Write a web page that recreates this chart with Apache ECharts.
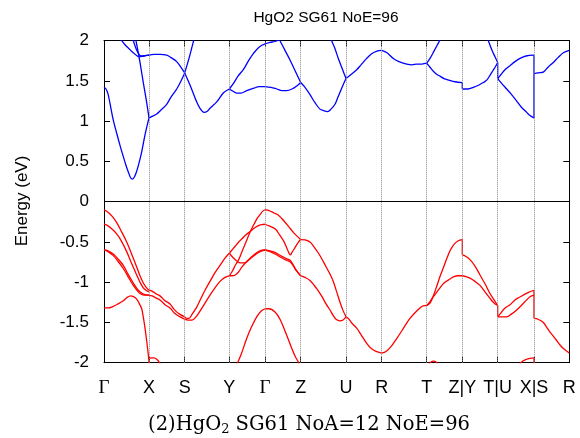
<!DOCTYPE html>
<html><head><meta charset="utf-8">
<script src="https://cdn.jsdelivr.net/npm/echarts@6/dist/echarts.min.js"></script>
<style>html,body{margin:0;padding:0;background:#fff}#c{width:580px;height:438px}</style>
</head><body><div id="c"></div>
<script>
// High-symmetry k-path positions and labels
const kTicks = [0, 45, 80.7, 125.3, 161, 196.7, 242, 277.7, 322.7, 358.3, 393.7, 430, 465.3];
const kLabels = ['Γ','X','S','Y','Γ','Z','U','R','T','Z|Y','T|U','X|S','R'];
const titleText = 'HgO2 SG61 NoE=96';
const yName = 'Energy (eV)';

// Conduction bands (blue) : [k, E]
const cb1 = [[0,1.42],[2,1.40],[4,1.34],[6,1.22],[9,1.03],[12.7,0.85],[16,0.70],[19.3,0.56],[22,0.45],[24.3,0.37],[26.5,0.30],[28.3,0.28],[30.5,0.31],[32.7,0.38],[35,0.48],[37.7,0.62],[41,0.83],[43,0.94],[45,1.04],
 [48,1.06],[52.7,1.09],[57,1.14],[62.7,1.21],[67,1.30],[72.7,1.40],[77,1.50],[80.7,1.60],[85,1.78],[89,1.97],[91,2.06]];
const cb2 = [[31.5,2.05],[32,2.0],[34,1.87],[36,1.73],[39.3,1.48],[42.7,1.23],[45,1.04]];
const cb3 = [[16,2.04],[17.7,2.0],[21,1.95],[24.3,1.91],[29.3,1.85],[35.3,1.80],[40,1.81],[45,1.82],
 [50,1.83],[56,1.83],[62.7,1.82],[67,1.79],[72.7,1.74],[77,1.67],[80.7,1.60],
 [86,1.45],[92.7,1.24],[96,1.16],[100,1.11],[103,1.12],[106,1.16],[112.7,1.24],[119.3,1.35],[125.3,1.40],
 [128,1.38],[132.7,1.35],[137,1.35],[142.7,1.38],[150,1.41],[155,1.43],[161,1.43],
 [167,1.42],[172.7,1.40],[178,1.38],[182.7,1.38],[188,1.40],[193,1.44],[196.7,1.48],
 [201,1.42],[206,1.33],[211,1.23],[216,1.15],[220,1.13],[223.7,1.12],[227,1.15],[231,1.21],[234,1.30],[238,1.42],[242,1.53],
 [247,1.58],[252.7,1.64],[257,1.70],[262.7,1.78],[268,1.84],[273,1.87],[277.7,1.88],
 [283,1.85],[289.3,1.78],[295,1.74],[302.7,1.71],[308,1.70],[312.7,1.71],[318,1.71],[322.7,1.72],
 [326,1.67],[329.3,1.62],[333,1.58],[336,1.56],[340,1.53],[345,1.51],[351,1.49],[358.3,1.48],
 [358.3,1.40],[364,1.40],[369.3,1.42],[375,1.45],[379.3,1.48],[382.7,1.51],[386,1.57],[389,1.63],[391.5,1.68],[393.7,1.73],
 [393.7,1.53],[397,1.48],[402.7,1.40],[407,1.34],[412.7,1.25],[417,1.18],[422.7,1.11],[426,1.07],[430,1.04],
 [430,1.59],[434,1.60],[439.3,1.61],[444,1.67],[449.3,1.73],[454,1.79],[459.3,1.85],[465.3,1.88]];
const cb4 = [[28,2.05],[29.3,2.0],[31.5,1.92],[34,1.85],[37,1.81],[41,1.815],[45,1.82]];
const cb5 = [[125.3,1.40],[130,1.48],[134,1.56],[139.3,1.64],[144,1.74],[149.3,1.84],[155,1.92],[161,1.96],[166,1.98],[171,1.99],[176,2.02],[180,2.06]];
const cb6 = [[172,2.1],[176,2.0],[181,1.88],[186,1.76],[191,1.63],[196.7,1.48]];
const cb7 = [[226,2.06],[228,1.99],[231,1.90],[234.3,1.78],[238,1.66],[242,1.53]];
const cb8 = [[322.7,1.72],[326,1.78],[330,1.87],[333,1.94],[335.5,2.0],[337,2.05]];
const cb9 = [[382,2.06],[384.3,2.0],[388,1.88],[391,1.80],[393.7,1.73]];
const cb10 = [[393.7,1.53],[397,1.58],[401,1.64],[406,1.69],[411,1.74],[416,1.78],[422,1.81],[430,1.82],[430,1.59]];

// Valence bands (red)
const vb1 = [[0,-0.10],[4,-0.13],[8,-0.18],[12.7,-0.26],[17,-0.36],[22.7,-0.50],[27,-0.63],[32.7,-0.81],[36,-0.92],[39.3,-1.01],[42,-1.06],[45,-1.10],
 [48,-1.11],[52.7,-1.15],[56,-1.17],[61,-1.23],[66,-1.27],[71,-1.35],[76,-1.40],[80.7,-1.43],
 [83,-1.45],[85,-1.45],[88,-1.40],[92.7,-1.31],[97,-1.20],[101,-1.10],[106,-0.99],[111,-0.88],[116,-0.79],[121,-0.70],[125.3,-0.64],
 [128,-0.60],[131.3,-0.55],[134.7,-0.50],[138,-0.46],[142,-0.41],[146.3,-0.37],[150,-0.33],[154,-0.30],[157.5,-0.285],[161,-0.28],
 [165,-0.30],[171.3,-0.34],[175.5,-0.41],[179.7,-0.49],[183,-0.58],[185,-0.64],[186.3,-0.66],[188,-0.63],[191,-0.57],[194,-0.51],[196.7,-0.47],
 [201,-0.475],[206,-0.50],[210,-0.56],[215,-0.65],[219.3,-0.745],[223,-0.83],[226,-0.90],[229.3,-0.99],[232.7,-1.12],[236,-1.25],[239,-1.35],[242,-1.43],
 [245,-1.46],[248,-1.51],[252.7,-1.57],[257,-1.65],[262.7,-1.76],[267,-1.82],[272,-1.86],[277.7,-1.88],
 [282,-1.86],[287,-1.80],[292.7,-1.70],[298,-1.60],[302,-1.52],[306,-1.45],[311,-1.38],[316,-1.32],[320,-1.29],[322.7,-1.29],
 [326,-1.26],[329.3,-1.17],[333,-1.04],[336,-0.93],[340,-0.80],[343,-0.70],[346,-0.61],[350,-0.53],[354.3,-0.485],[358.3,-0.47],
 [358.3,-0.66],[362,-0.68],[366,-0.72],[371,-0.80],[376,-0.91],[381,-1.02],[386,-1.14],[390,-1.22],[393.7,-1.29],
 [393.7,-1.43],[397,-1.38],[401,-1.32],[406,-1.28],[411,-1.22],[415,-1.19],[419.3,-1.16],[424,-1.13],[430,-1.10],
 [430,-1.45],[434,-1.46],[439.3,-1.50],[442.7,-1.56],[446,-1.62],[449.3,-1.67],[453,-1.73],[456,-1.78],[460,-1.83],[465.3,-1.88]];
const vb2 = [[0,-0.28],[4,-0.30],[8,-0.34],[12.7,-0.40],[17,-0.48],[22.7,-0.62],[27,-0.75],[32.7,-0.91],[36,-1.00],[39.3,-1.07],[42,-1.10],[45,-1.12]];
const vb3 = [[0,-0.60],[4,-0.61],[9.3,-0.65],[14,-0.71],[19.3,-0.79],[24,-0.90],[29.3,-1.01],[33,-1.08],[36,-1.12],[40,-1.15],[45,-1.16],
 [48,-1.17],[52.7,-1.20],[56,-1.22],[61,-1.28],[66,-1.32],[71,-1.39],[76,-1.43],[80.7,-1.46],
 [84,-1.47],[88,-1.47],[92,-1.43],[96,-1.36],[101,-1.26],[106,-1.16],[111,-1.07],[116,-0.99],[121,-0.94],[125.3,-0.92],
 [128,-0.92],[131.3,-0.91],[134.7,-0.87],[138,-0.81],[143,-0.74],[148,-0.68],[152,-0.64],[156,-0.61],[161,-0.60],
 [166,-0.61],[171,-0.63],[178,-0.68],[183,-0.71],[186.3,-0.73],[189,-0.78],[191.3,-0.83],[194,-0.88],[196.7,-0.92],
 [201,-0.94],[206,-0.98],[212.7,-1.08],[218,-1.18],[222,-1.27],[226,-1.345],[229,-1.41],[232,-1.46],[236,-1.48],[239,-1.47],[242,-1.43]];
const vb4 = [[0,-0.60],[4,-0.62],[9.3,-0.67],[14,-0.74],[19.3,-0.83],[24,-0.93],[29.3,-1.04],[33,-1.10],[36,-1.14],[40,-1.16],[45,-1.16]];
const vb5 = [[125.3,-0.92],[128,-0.87],[131.3,-0.79],[134.7,-0.72],[138,-0.62],[142,-0.50],[146.3,-0.37],[150,-0.28],[153,-0.21],[156,-0.16],[158.5,-0.12],[161,-0.10],
 [165,-0.11],[170,-0.14],[174.7,-0.17],[180,-0.24],[184.7,-0.31],[190,-0.39],[196.7,-0.47]];
const vb6 = [[125.3,-0.64],[128,-0.68],[131.3,-0.72],[134,-0.75],[136.3,-0.76],[140,-0.76],[143,-0.745],[147,-0.70],[151.3,-0.66],[156,-0.62],[161,-0.60],
 [166,-0.62],[171,-0.65],[178,-0.70],[183,-0.73],[186.3,-0.75],[189,-0.79],[191.3,-0.84],[194,-0.88],[196.7,-0.92]];
const vb7 = [[322.7,-1.29],[326,-1.24],[329.3,-1.18],[333,-1.12],[336,-1.07],[340,-1.01],[346,-0.96],[350,-0.93],[354,-0.92],[358.3,-0.92],
 [362,-0.93],[366,-0.95],[371,-0.99],[376,-1.04],[381,-1.12],[386,-1.20],[390,-1.26],[393.7,-1.29]];
const vb8 = [[393.7,-1.43],[398,-1.43],[402.7,-1.43],[407,-1.40],[412.7,-1.345],[418,-1.28],[422.7,-1.22],[426,-1.18],[430,-1.16]];
const vb9 = [[0,-1.32],[4,-1.32],[9.3,-1.30],[14,-1.27],[19.3,-1.23],[23,-1.19],[26.7,-1.17],[29.5,-1.18],[32.7,-1.21],[35,-1.26],[37.7,-1.33],[39.5,-1.45],[41,-1.57],[42.8,-1.74],[44.3,-1.90],[45,-1.99],[45.5,-2.05]];
const vb10 = [[45,-1.95],[47,-1.94],[50,-1.94],[53,-1.96],[55,-1.99],[56.5,-2.03]];
const vb11 = [[131,-2.05],[133.5,-2.0],[137,-1.90],[142.7,-1.70],[147,-1.57],[152.7,-1.43],[157,-1.36],[161,-1.33],[165,-1.33],[171,-1.37],[176,-1.46],[182.7,-1.66],[188,-1.83],[191.5,-1.93],[194.3,-1.99],[195.5,-2.05]];
const vb12 = [[324.5,-2.03],[327,-1.99],[329.5,-1.98],[332,-1.99],[334.5,-2.03]];
const vb13 = [[414,-2.05],[417.7,-1.99],[422,-1.96],[426,-1.945],[430,-1.94],[430,-2.05]];

const blueBands = [cb1, cb2, cb3, cb4, cb5, cb6, cb7, cb8, cb9, cb10];
const redBands = [vb1, vb2, vb3, vb4, vb5, vb6, vb7, vb8, vb9, vb10, vb11, vb12, vb13];

function isTick(x){ return kTicks.some(k => Math.abs(k - x) < 1e-6); }
function splitBand(pts){
  const pieces = []; let cur = [pts[0]];
  for (let i = 1; i < pts.length; i++) {
    const p = pts[i], q = pts[i-1];
    if (p[0] === q[0]) {
      if (cur.length > 1) pieces.push(cur);
      pieces.push([q, p]); cur = [p]; continue;
    }
    cur.push(p);
    if (isTick(p[0]) && i < pts.length - 1 && pts[i+1][0] !== p[0]) { pieces.push(cur); cur = [p]; }
  }
  if (cur.length > 1) pieces.push(cur);
  return pieces;
}

const series = [];
function addBands(bands, color){
  bands.forEach(b => splitBand(b).forEach(piece => {
    series.push({type:'line', data: piece, showSymbol:false, smooth: piece.length > 2 ? 0.35 : false,
      clip:true, lineStyle:{color, width:1.3}, itemStyle:{color}, silent:true, animation:false});
  }));
}
addBands(redBands, '#ff0000');
addBands(blueBands, '#0000ff');

series.unshift({type:'line', data:[], silent:true, animation:false,
  markLine:{silent:true, symbol:['none','none'], animation:false, label:{show:false},
    lineStyle:{type:'dotted', color:'#888', width:1},
    data: kTicks.slice(1,-1).map(k => ({xAxis:k, lineStyle:{type:'dotted', color:'#888', width:1}}))
      .concat([{yAxis:0, lineStyle:{type:'solid', color:'#000', width:1}}])}});

const axisBase = {type:'value', min:0, max:465.3, splitLine:{show:false},
  axisLine:{show:true, onZero:false, lineStyle:{color:'#000', width:1}}};

const chart = echarts.init(document.getElementById('c'), null, {renderer:'canvas'});
chart.setOption({
  animation:false,
  grid:{left:104, right:10.7, top:40.7, bottom:75.3, containLabel:false},
  xAxis:[
    Object.assign({}, axisBase, {position:'bottom',
      axisTick:{show:true, inside:true, length:6, customValues:kTicks, lineStyle:{color:'#000'}},
      axisLabel:{show:true, customValues:kTicks, margin:16, color:'#000', fontSize:18, fontFamily:'Liberation Sans',
        formatter: v => { const i = kTicks.findIndex(k => Math.abs(k - v) < 1e-6); const s = i >= 0 ? kLabels[i] : '';
          return s === 'Γ' ? '{g|Γ}' : s; },
        rich:{g:{fontFamily:'Liberation Serif', fontSize:19, color:'#000'}}}}),
    Object.assign({}, axisBase, {position:'top',
      axisTick:{show:true, inside:true, length:6, customValues:kTicks, lineStyle:{color:'#000'}},
      axisLabel:{show:false}})
  ],
  yAxis:[
    {type:'value', min:-2, max:2, interval:0.5, position:'left', splitLine:{show:false},
      axisLine:{show:true, onZero:false, lineStyle:{color:'#000', width:1}},
      axisTick:{show:true, inside:true, length:6, lineStyle:{color:'#000'}},
      axisLabel:{color:'#000', fontSize:17, fontFamily:'Liberation Sans', margin:15}},
    {type:'value', min:-2, max:2, interval:0.5, position:'right', splitLine:{show:false},
      axisLine:{show:true, onZero:false, lineStyle:{color:'#000', width:1}},
      axisTick:{show:true, inside:true, length:6, lineStyle:{color:'#000'}},
      axisLabel:{show:false}}
  ],
  graphic:[
    {type:'text', x:326, y:18, style:{text:titleText, fontFamily:'Liberation Sans', fontSize:15.5, fill:'#000', textAlign:'center', textVerticalAlign:'middle'}},
    {type:'text', x:22, y:201, rotation:Math.PI/2, style:{text:yName, fontFamily:'Liberation Sans', fontSize:17, fill:'#000', textAlign:'center', textVerticalAlign:'middle'}},
    {type:'text', x:309, y:425, style:{text:'(2)HgO{s|2} SG61 NoA=12 NoE=96', fontFamily:'DejaVu Serif', fontSize:19.5, fill:'#000', textAlign:'center', textVerticalAlign:'middle',
      rich:{s:{fontFamily:'DejaVu Serif', fontSize:13, fill:'#000', padding:[10,0,0,0]}}}}
  ],
  series
});
</script></body></html>
